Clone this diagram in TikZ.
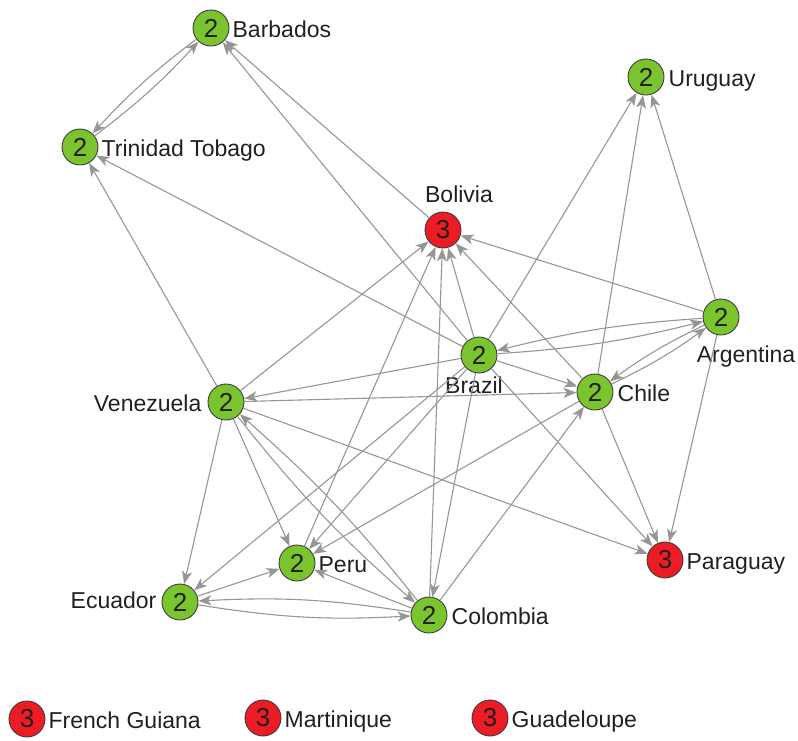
\documentclass[tikz,border=0pt]{standalone}
\usepackage{fontspec}
\setmainfont{Liberation Sans}
\usetikzlibrary{arrows.meta}
\definecolor{nodegreen}{RGB}{122,197,46}
\definecolor{nodered}{RGB}{237,28,36}
\definecolor{edgegray}{RGB}{150,150,150}
\definecolor{rimgray}{RGB}{60,60,60}
\definecolor{inkgray}{RGB}{35,31,32}

\begin{document}
\begin{tikzpicture}[x=1pt,y=1pt,
  country/.style={circle,draw=rimgray,line width=0.9pt,minimum size=36pt,inner sep=0pt,
    text=inkgray,font=\fontsize{26}{26}\selectfont},
  lvltwo/.style={country,fill=nodegreen},
  lvlthree/.style={country,fill=nodered},
  every label/.style={text=inkgray,font=\fontsize{23}{23}\selectfont,inner sep=2pt,
    text height=22pt,text depth=3.5pt},
  link/.style={draw=edgegray,line width=1.1pt,-{Stealth[length=13pt,width=10pt,inset=3.5pt]}},
  pair/.style={link,bend right=5}]

\useasboundingbox (0,0) rectangle (798,-740);

% countries
\node[lvltwo,label={[label distance=1pt]right:Barbados}] (bar) at (211,-28) {2};
\node[lvltwo,label={[label distance=1pt]right:Trinidad Tobago}] (tri) at (80,-147) {2};
\node[lvltwo,label={[label distance=2pt]right:Uruguay}] (uru) at (646,-77) {2};
\node[lvlthree,label={[label distance=3pt,xshift=16pt]above:Bolivia}] (bol) at (443,-230) {3};
\node[lvltwo,label={[label distance=3pt,xshift=25pt]below:Argentina}] (arg) at (721,-317) {2};
\node[lvltwo,label={[label distance=-4pt,xshift=-5pt]below:Brazil}] (bra) at (479,-355) {2};
\node[lvltwo,label={[label distance=2pt]right:Chile}] (chi) at (595,-392) {2};
\node[lvltwo,label={[label distance=4pt]left:Venezuela}] (ven) at (226,-402) {2};
\node[lvlthree,label={[label distance=1pt]right:Paraguay}] (par) at (665,-560) {3};
\node[lvltwo,label={[label distance=1pt]right:Peru}] (per) at (297,-563) {2};
\node[lvltwo,label={[label distance=3pt,yshift=3pt]left:Ecuador}] (ecu) at (180,-602) {2};
\node[lvltwo,label={[label distance=2pt]right:Colombia}] (col) at (429,-615) {2};

% isolated countries
\node[lvlthree,label={[label distance=1pt]right:French Guiana}] (fgu) at (27,-719) {3};
\node[lvlthree,label={[label distance=1pt]right:Martinique}] (mar) at (263,-718) {3};
\node[lvlthree,label={[label distance=1pt]right:Guadeloupe}] (gua) at (490,-718) {3};

% reciprocal links
\draw[pair] (tri) to (bar);
\draw[pair] (bar) to (tri);
\draw[pair] (arg) to (bra);
\draw[pair] (bra) to (arg);
\draw[pair] (arg) to (chi);
\draw[pair] (chi) to (arg);
\draw[pair] (ven) to (col);
\draw[pair] (col) to (ven);
\draw[link,bend right=6] (ecu) to (col);
\draw[link,bend right=6] (col) to (ecu);

% one-way links
\draw[link] (bol) -- (bar);
\draw[link] (bra) -- (bar);
\draw[link] (bra) -- (tri);
\draw[link] (ven) -- (tri);
\draw[link] (bra) -- (uru);
\draw[link] (chi) -- (uru);
\draw[link] (arg) -- (uru);
\draw[link] (arg) -- (bol);
\draw[link] (chi) -- (bol);
\draw[link] (bra) -- (bol);
\draw[link] (col) -- (bol);
\draw[link] (per) -- (bol);
\draw[link] (ven) -- (bol);
\draw[link] (arg) -- (par);
\draw[link] (bra) -- (chi);
\draw[link] (bra) -- (ven);
\draw[link] (ven) -- (chi);
\draw[link] (bra) -- (par);
\draw[link] (chi) -- (par);
\draw[link] (ven) -- (par);
\draw[link] (bra) -- (per);
\draw[link] (bra) -- (ecu);
\draw[link] (bra) -- (col);
\draw[link] (chi) -- (per);
\draw[link] (col) -- (chi);
\draw[link] (ven) -- (ecu);
\draw[link] (ven) -- (per);
\draw[link] (ecu) -- (per);
\draw[link] (col) -- (per);

\end{tikzpicture}
\end{document}
